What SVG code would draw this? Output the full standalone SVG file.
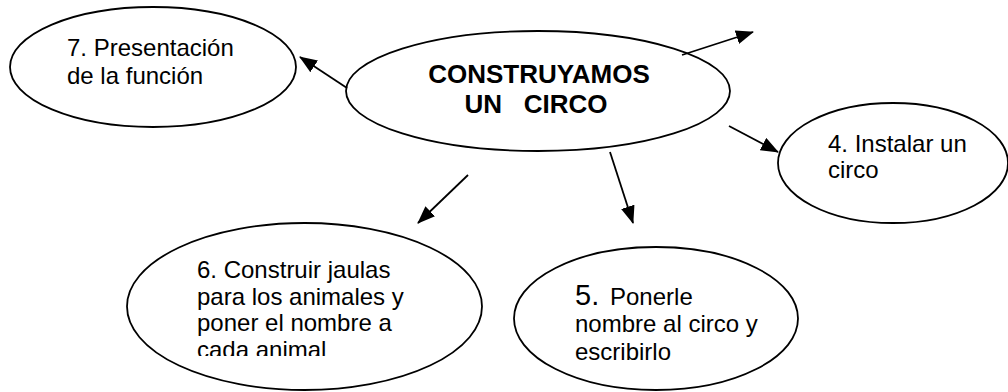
<svg xmlns="http://www.w3.org/2000/svg" width="1008" height="392" viewBox="0 0 1008 392">
  <style>
    .node ellipse { fill: #ffffff; stroke: #000000; stroke-width: 1.8; }
    .lbl { font-family: "Liberation Sans", Arial, sans-serif; font-size: 24px; fill: #000000; }
    .title { font-family: "Liberation Sans", Arial, sans-serif; font-size: 26px; font-weight: bold; fill: #000000; text-anchor: middle; }
    .conn line { stroke: #000000; stroke-width: 1.8; marker-end: url(#arrow); }
  </style>
  <defs>
    <marker id="arrow" viewBox="0 0 18 14" refX="17" refY="7" markerWidth="18" markerHeight="14" markerUnits="userSpaceOnUse" orient="auto">
      <path d="M0,0 L18,7 L0,14 z" fill="#000000"/>
    </marker>
    <clipPath id="clip6">
      <rect x="150" y="240" width="320" height="116"/>
    </clipPath>
  </defs>
  <rect width="1008" height="392" fill="#ffffff"/>

  <g id="node-center" class="node">
    <ellipse cx="538" cy="91" rx="192" ry="60"/>
    <text class="title" x="539" y="83">CONSTRUYAMOS</text>
    <text class="title" x="536" y="113" xml:space="preserve">UN   CIRCO</text>
  </g>

  <g id="node-7" class="node">
    <ellipse cx="153" cy="67" rx="143" ry="60"/>
    <text class="lbl" x="67" y="56">7. Presentación</text>
    <text class="lbl" x="67" y="84">de la función</text>
  </g>

  <g id="node-4" class="node">
    <ellipse cx="893" cy="163" rx="115" ry="60"/>
    <text class="lbl" x="828" y="152">4. Instalar un</text>
    <text class="lbl" x="828" y="178">circo</text>
  </g>

  <g id="node-6" class="node">
    <ellipse cx="304.5" cy="306.5" rx="177.5" ry="83.5"/>
    <g clip-path="url(#clip6)">
      <text class="lbl" x="197" y="278">6. Construir jaulas</text>
      <text class="lbl" x="197" y="305">para los animales y</text>
      <text class="lbl" x="197" y="331">poner el nombre a</text>
      <text class="lbl" x="197" y="358">cada animal</text>
    </g>
  </g>

  <g id="node-5" class="node">
    <ellipse cx="656" cy="318.5" rx="142" ry="71.5"/>
    <text class="lbl" x="575" y="305"><tspan font-size="29">5.</tspan><tspan x="610">Ponerle</tspan></text>
    <text class="lbl" x="575" y="332">nombre al circo y</text>
    <text class="lbl" x="575" y="360">escribirlo</text>
  </g>

  <g id="connectors" class="conn">
    <line x1="347" y1="88" x2="300" y2="57"/>
    <line x1="682" y1="55" x2="753" y2="32"/>
    <line x1="729" y1="126" x2="778" y2="152"/>
    <line x1="610" y1="152" x2="633" y2="223"/>
    <line x1="468" y1="175" x2="418" y2="223"/>
  </g>
</svg>
